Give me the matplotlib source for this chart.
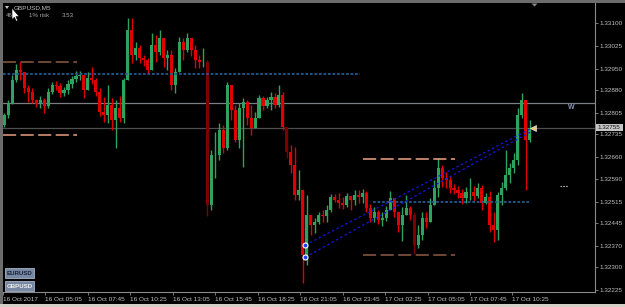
import matplotlib
matplotlib.use("Agg")
import matplotlib.pyplot as plt
from matplotlib.patches import Rectangle, Polygon

W, H = 625, 307

# ---------------- data (15-minute aggregation of the M5 GBPUSD chart) ----------------
first_open = 1.32765
highs = [1.32805, 1.32847, 1.32929, 1.32965, 1.32971, 1.32939, 1.32896, 1.32886, 1.32850, 1.32860,
         1.32853, 1.32886, 1.32906, 1.32909, 1.32903, 1.32890, 1.32912, 1.32926, 1.32942, 1.32942,
         1.32929, 1.32939, 1.32955, 1.32919, 1.32886, 1.32857, 1.32896, 1.32853, 1.32847, 1.32860,
         1.32919, 1.33115, 1.33115, 1.33037, 1.33027, 1.32994, 1.32984, 1.33066, 1.33060, 1.33076,
         1.33043, 1.33011, 1.33011, 1.32952, 1.33053, 1.33050, 1.33066, 1.33043, 1.33027, 1.32994,
         1.33017, 1.32978, 1.32684, 1.32742, 1.32772, 1.32765, 1.32906, 1.32896, 1.32831, 1.32837,
         1.32853, 1.32847, 1.32831, 1.32808, 1.32863, 1.32860, 1.32857, 1.32873, 1.32870, 1.32896,
         1.32873, 1.32759, 1.32700, 1.32693, 1.32618, 1.32553, 1.32536, 1.32471, 1.32461, 1.32481,
         1.32487, 1.32504, 1.32540, 1.32540, 1.32543, 1.32530, 1.32543, 1.32533, 1.32553, 1.32553,
         1.32556, 1.32549, 1.32507, 1.32497, 1.32487, 1.32481, 1.32500, 1.32549, 1.32526, 1.32481,
         1.32497, 1.32536, 1.32500, 1.32481, 1.32438, 1.32481, 1.32481, 1.32526, 1.32585, 1.32657,
         1.32634, 1.32612, 1.32599, 1.32572, 1.32566, 1.32556, 1.32562, 1.32592, 1.32566, 1.32576,
         1.32569, 1.32543, 1.32549, 1.32481, 1.32546, 1.32579, 1.32684, 1.32641, 1.32674, 1.32821,
         1.32870, 1.32847, 1.32782]
lows = [1.32759, 1.32788, 1.32847, 1.32906, 1.32912, 1.32870, 1.32841, 1.32837, 1.32824, 1.32821,
        1.32805, 1.32821, 1.32867, 1.32880, 1.32857, 1.32860, 1.32867, 1.32886, 1.32906, 1.32912,
        1.32853, 1.32886, 1.32899, 1.32860, 1.32795, 1.32775, 1.32772, 1.32749, 1.32690, 1.32775,
        1.32772, 1.32912, 1.32968, 1.32978, 1.32968, 1.32958, 1.32935, 1.32961, 1.32971, 1.32994,
        1.32955, 1.32945, 1.32880, 1.32870, 1.32939, 1.32978, 1.33004, 1.32991, 1.32952, 1.32952,
        1.32955, 1.32468, 1.32487, 1.32592, 1.32651, 1.32674, 1.32684, 1.32782, 1.32710, 1.32690,
        1.32628, 1.32765, 1.32733, 1.32755, 1.32788, 1.32814, 1.32821, 1.32814, 1.32821, 1.32824,
        1.32749, 1.32657, 1.32608, 1.32520, 1.32520, 1.32249, 1.32307, 1.32406, 1.32412, 1.32441,
        1.32448, 1.32448, 1.32481, 1.32514, 1.32494, 1.32491, 1.32497, 1.32487, 1.32504, 1.32510,
        1.32510, 1.32481, 1.32448, 1.32448, 1.32441, 1.32435, 1.32451, 1.32487, 1.32464, 1.32415,
        1.32386, 1.32471, 1.32455, 1.32343, 1.32363, 1.32389, 1.32428, 1.32448, 1.32504, 1.32530,
        1.32562, 1.32559, 1.32543, 1.32540, 1.32526, 1.32507, 1.32510, 1.32520, 1.32517, 1.32526,
        1.32487, 1.32507, 1.32415, 1.32383, 1.32389, 1.32504, 1.32553, 1.32576, 1.32608, 1.32634,
        1.32788, 1.32553, 1.32710]
closes = [1.32798, 1.32834, 1.32912, 1.32945, 1.32939, 1.32886, 1.32873, 1.32847, 1.32834, 1.32847,
          1.32827, 1.32873, 1.32896, 1.32893, 1.32870, 1.32880, 1.32899, 1.32916, 1.32926, 1.32929,
          1.32880, 1.32919, 1.32912, 1.32873, 1.32808, 1.32798, 1.32831, 1.32782, 1.32821, 1.32788,
          1.32912, 1.33076, 1.32994, 1.33017, 1.32984, 1.32978, 1.32945, 1.33027, 1.33004, 1.33050,
          1.32984, 1.32994, 1.32896, 1.32939, 1.33037, 1.33011, 1.33050, 1.33011, 1.32978, 1.32971,
          1.32971, 1.32504, 1.32667, 1.32667, 1.32749, 1.32690, 1.32896, 1.32814, 1.32716, 1.32821,
          1.32841, 1.32788, 1.32755, 1.32788, 1.32853, 1.32827, 1.32847, 1.32857, 1.32831, 1.32863,
          1.32759, 1.32677, 1.32634, 1.32536, 1.32553, 1.32340, 1.32471, 1.32438, 1.32448, 1.32471,
          1.32468, 1.32487, 1.32530, 1.32520, 1.32510, 1.32504, 1.32533, 1.32520, 1.32536, 1.32530,
          1.32543, 1.32494, 1.32461, 1.32481, 1.32455, 1.32461, 1.32487, 1.32526, 1.32481, 1.32438,
          1.32471, 1.32494, 1.32471, 1.32373, 1.32406, 1.32461, 1.32448, 1.32504, 1.32559, 1.32625,
          1.32592, 1.32585, 1.32559, 1.32553, 1.32543, 1.32526, 1.32546, 1.32546, 1.32533, 1.32559,
          1.32510, 1.32530, 1.32438, 1.32422, 1.32536, 1.32559, 1.32602, 1.32625, 1.32651, 1.32798,
          1.32847, 1.32716, 1.32755]

price_ticks = [1.33100, 1.33025, 1.32950, 1.32880, 1.32805, 1.32735, 1.32660,
               1.32590, 1.32515, 1.32445, 1.32370, 1.32300, 1.32225]
time_labels = ["16 Oct 2017", "16 Oct 05:05", "16 Oct 07:45", "16 Oct 10:25", "16 Oct 13:05",
               "16 Oct 15:45", "16 Oct 18:25", "16 Oct 21:05", "16 Oct 23:45", "17 Oct 02:25",
               "17 Oct 05:05", "17 Oct 07:45", "17 Oct 10:25"]

current_price = 1.32755
level_grey = 1.32836
level_left_brown = 1.32971
level_left_salmon = 1.32732
level_blue_top = 1.32933
level_right_salmon = 1.32653
level_right_brown = 1.32340
level_blue_right = 1.32514
trend_upper = (1.32373, 1.32752)
trend_lower = (1.32333, 1.32742)
short_mark_level = 1.32566

# ---------------- figure ----------------
fig = plt.figure(figsize=(W / 100, H / 100), dpi=100, facecolor="black")
plt.rcParams["font.family"] = ["Liberation Sans", "DejaVu Sans"]

def fx(x):
    return x / W

def fy(y):
    return 1 - y / H

ax_l, ax_r, ax_t, ax_b = 3, 595, 3, 292
ax = fig.add_axes([fx(ax_l), fy(ax_b), (ax_r - ax_l) / W, (ax_b - ax_t) / H])
ax.set_facecolor("black")

n = len(closes)
opens = [first_open] + closes[:-1]
xs = list(range(n))

green = "#2ea35f"
red = "#e00000"
dark_red = "#7c0000"
dark_set = {51, 71, 103}

for i in xs:
    o, c = opens[i], closes[i]
    hi = max(highs[i], o, c)
    lo = min(lows[i], o, c)
    if i in dark_set:
        col = dark_red
    else:
        col = green if c >= o else red
    ax.vlines(i, lo, hi, color=col, lw=1.0, zorder=3)
    bottom = min(o, c)
    h = max(abs(c - o), 0.00002)
    ax.bar(i, h, bottom=bottom, width=0.78, color=col, linewidth=0, zorder=3)

x_left = (ax_l - 4.3) / 3.98
x_right = (ax_r - 4.3) / 3.98
ax.set_xlim(x_left, x_right)
ax.set_ylim(1.322194, 1.331644)

def px2k(x):
    return (x - 4.3) / 3.98

# full-width lines
ax.axhline(level_grey, color="#7a7f86", lw=0.9, zorder=2)
ax.axhline(current_price, color="#4e4e4e", lw=0.9, zorder=2)

dash = (8.6, 2.9)
ax.plot([x_left, px2k(77)], [level_left_brown] * 2, color="#8e5b46", lw=1.1, dashes=dash, zorder=4)
ax.plot([x_left, px2k(77)], [level_left_salmon] * 2, color="#e89e80", lw=1.1, dashes=dash, zorder=4)
ax.plot([px2k(363), px2k(455)], [level_right_salmon] * 2, color="#f0a486", lw=1.1, dashes=dash, zorder=4)
ax.plot([px2k(363), px2k(455)], [level_right_brown] * 2, color="#8e5b46", lw=1.1, dashes=dash, zorder=4)

ax.plot([x_left, px2k(360)], [level_blue_top] * 2, color="#245a94", lw=1.3, dashes=(1.5, 1.0), zorder=4)
ax.plot([px2k(373), px2k(530)], [level_blue_right] * 2, color="#245a94", lw=1.3, dashes=(1.5, 1.0), zorder=4)

tx0, tx1 = px2k(305.3), px2k(530)
ax.plot([tx0, tx1], list(trend_upper), color="#1515e0", lw=0.9, dashes=(2, 2), zorder=5)
ax.plot([tx0, tx1], list(trend_lower), color="#1515e0", lw=0.9, dashes=(2, 2), zorder=5)
ax.plot([tx0, tx0], [trend_upper[0], trend_lower[0]], ls="none", marker="o", ms=3.6,
        mfc="#2244ff", mec="white", mew=0.8, zorder=6)

ax.plot([px2k(560), px2k(568)], [short_mark_level] * 2, color="#b0b0b0", lw=0.8, dashes=(1.5, 1.0), zorder=4)
ax.plot([px2k(533)], [current_price], marker="<", ms=4, color="#f3c46a", mec="white", mew=0.4, zorder=7)

ax.text(fx(571), fy(108), "W", transform=fig.transFigure, color="#8a98b8", fontsize=5,
        ha="center", va="center", fontweight="bold")

# axes styling
for s in ["top", "left"]:
    ax.spines[s].set_visible(False)
for s in ["right", "bottom"]:
    ax.spines[s].set_color("#8a8a8a")
    ax.spines[s].set_linewidth(0.8)

ax.yaxis.tick_right()
ax.set_yticks(price_ticks)
ax.set_yticklabels([f"{p:.5f}" for p in price_ticks])
ax.tick_params(axis="y", direction="out", length=2, width=0.6, color="#8a8a8a",
               labelsize=4.6, labelcolor="#c0c0c0", pad=1.5)

tick_pos = [(32 * i - 1) / 3 for i in range(len(time_labels))]
ax.set_xticks(tick_pos)
ax.set_xticklabels(time_labels)
ax.tick_params(axis="x", direction="out", length=2, width=0.6, color="#8a8a8a",
               labelsize=4.6, labelcolor="#c0c0c0", pad=1.5)
for lab in ax.get_xticklabels():
    lab.set_ha("left")

# current price label box
fig.add_artist(Rectangle((fx(596), fy(130.5)), 27 / W, 6.5 / H, transform=fig.transFigure,
                         facecolor="#c4c4c4", edgecolor="none"))
fig.text(fx(597.5), fy(127.3), f"{current_price:.5f}", color="#101010", fontsize=4.5,
         ha="left", va="center")

# frame strips
fig.add_artist(Rectangle((0, fy(H)), 3 / W, 1, transform=fig.transFigure, facecolor="#6c6c6c", edgecolor="none"))
fig.add_artist(Rectangle((0, fy(2.5)), 1, 2.5 / H, transform=fig.transFigure, facecolor="#6c6c6c", edgecolor="none"))
fig.add_artist(Rectangle((0, 0), 1, 3.5 / H, transform=fig.transFigure, facecolor="#d4d0c8", edgecolor="none"))

# top-left info
fig.add_artist(Polygon([(fx(5), fy(6)), (fx(9), fy(6)), (fx(7), fy(9))], closed=True,
                       transform=fig.transFigure, facecolor="#c8c8c8", edgecolor="none"))
fig.text(fx(13.5), fy(8), "GBPUSD,M5", color="#c0c0c0", fontsize=4.6, ha="left", va="center")
fig.text(fx(6), fy(15.5), "46.", color="#a8a8a8", fontsize=4.4, ha="left", va="center")
fig.text(fx(29), fy(15.5), "1% risk", color="#a8a8a8", fontsize=4.4, ha="left", va="center")
fig.text(fx(62), fy(15.5), "3.53", color="#a8a8a8", fontsize=4.4, ha="left", va="center")

# mouse cursor
cur = [(12, 8), (12, 19.5), (14.4, 17.3), (16.3, 21.3), (17.7, 20.6), (15.9, 16.6), (19, 16.4)]
fig.add_artist(Polygon([(fx(a), fy(b)) for a, b in cur], closed=True, transform=fig.transFigure,
                       facecolor="white", edgecolor="black", lw=0.4))

# top-right shift marker
fig.add_artist(Polygon([(fx(531.5), fy(3.5)), (fx(537.5), fy(3.5)), (fx(534.5), fy(6.5))], closed=True,
                       transform=fig.transFigure, facecolor="#8a8a8a", edgecolor="none"))

# symbol buttons
for y0, label, tcol in [(268, "EURUSD", "#15203a"), (281, "GBPUSD", "#eeeeee")]:
    fig.add_artist(Rectangle((fx(5), fy(y0 + 10)), 29 / W, 10 / H, transform=fig.transFigure,
                             facecolor="#7887a2", edgecolor="#a8b4c8", lw=0.6))
    fig.text(fx(19.5), fy(y0 + 5.2), label, color=tcol, fontsize=4.4, ha="center", va="center",
             fontweight="bold")

fig.savefig("out.png", dpi=100, facecolor="black")
